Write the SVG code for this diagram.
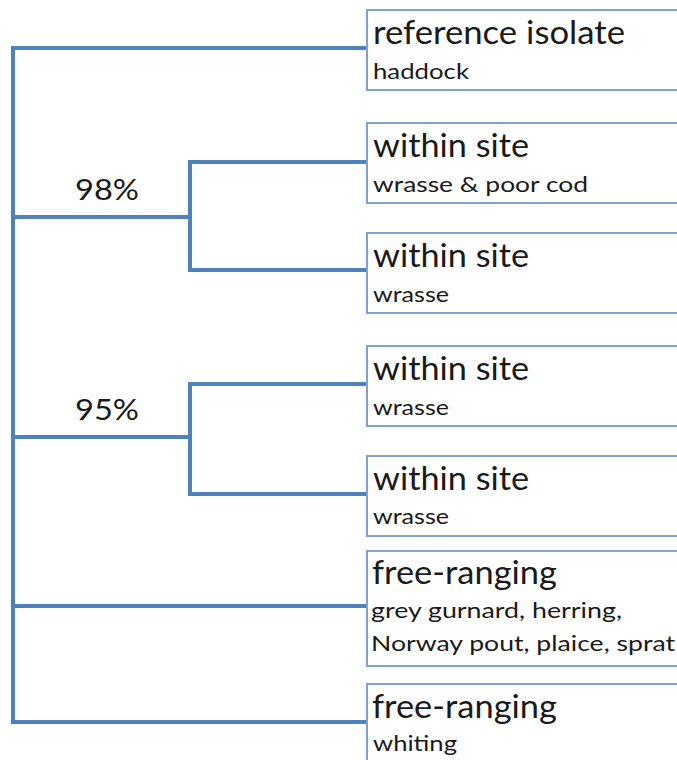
<svg xmlns="http://www.w3.org/2000/svg" width="677" height="760" viewBox="0 0 677 760">
<style>
.box{fill:#fff;stroke:#7fa2d6;stroke-width:2}
.ln{fill:none;stroke:#4f81bd;stroke-width:4;stroke-linecap:square}
.t{font-family:Lato,"Open Sans",sans-serif;font-size:32px;fill:#1a1a1a}
.s{font-family:Lato,"Open Sans",sans-serif;font-size:22px;fill:#1a1a1a}
.p{font-family:Lato,"Open Sans",sans-serif;font-size:28px;fill:#1a1a1a}
</style>
<rect width="677" height="760" fill="#fff"/>
<g id="connectors">
<path class="ln" d="M367,48 H13 V722 H367"/>
<path class="ln" d="M13,217 H190"/>
<path class="ln" d="M367,162 H190 V270 H367"/>
<path class="ln" d="M13,437 H190"/>
<path class="ln" d="M367,384 H190 V494 H367"/>
<path class="ln" d="M13,606 H367"/>
</g>
<g id="label98"><text class="p" x="75" y="200" textLength="64" lengthAdjust="spacingAndGlyphs">98%</text></g>
<g id="label95"><text class="p" x="75" y="420" textLength="64" lengthAdjust="spacingAndGlyphs">95%</text></g>
<g id="n1"><rect class="box" x="367" y="10" width="330" height="80"/><text class="t" x="373" y="44" textLength="252" lengthAdjust="spacingAndGlyphs">reference isolate</text><text class="s" x="373" y="79" textLength="96" lengthAdjust="spacingAndGlyphs">haddock</text></g>
<g id="n2"><rect class="box" x="367" y="123" width="330" height="80"/><text class="t" x="373" y="157" textLength="156" lengthAdjust="spacingAndGlyphs">within site</text><text class="s" x="373" y="192" textLength="215" lengthAdjust="spacingAndGlyphs">wrasse &amp; poor cod</text></g>
<g id="n3"><rect class="box" x="367" y="233" width="330" height="80"/><text class="t" x="373" y="267" textLength="156" lengthAdjust="spacingAndGlyphs">within site</text><text class="s" x="373" y="302" textLength="76" lengthAdjust="spacingAndGlyphs">wrasse</text></g>
<g id="n4"><rect class="box" x="367" y="346" width="330" height="80"/><text class="t" x="373" y="380" textLength="156" lengthAdjust="spacingAndGlyphs">within site</text><text class="s" x="373" y="415" textLength="76" lengthAdjust="spacingAndGlyphs">wrasse</text></g>
<g id="n5"><rect class="box" x="367" y="456" width="330" height="80"/><text class="t" x="373" y="490" textLength="156" lengthAdjust="spacingAndGlyphs">within site</text><text class="s" x="373" y="524" textLength="76" lengthAdjust="spacingAndGlyphs">wrasse</text></g>
<g id="n6"><rect class="box" x="367" y="551" width="330" height="115"/><text class="t" x="372" y="584" textLength="185" lengthAdjust="spacingAndGlyphs">free-ranging</text><text class="s" x="371" y="618" textLength="251" lengthAdjust="spacingAndGlyphs">grey gurnard, herring,</text><text class="s" x="371" y="651" textLength="304" lengthAdjust="spacingAndGlyphs">Norway pout, plaice, sprat</text></g>
<g id="n7"><rect class="box" x="367" y="684" width="330" height="90"/><text class="t" x="372" y="718" textLength="185" lengthAdjust="spacingAndGlyphs">free-ranging</text><text class="s" x="373" y="751" textLength="84" lengthAdjust="spacingAndGlyphs">whiting</text></g>
</svg>
